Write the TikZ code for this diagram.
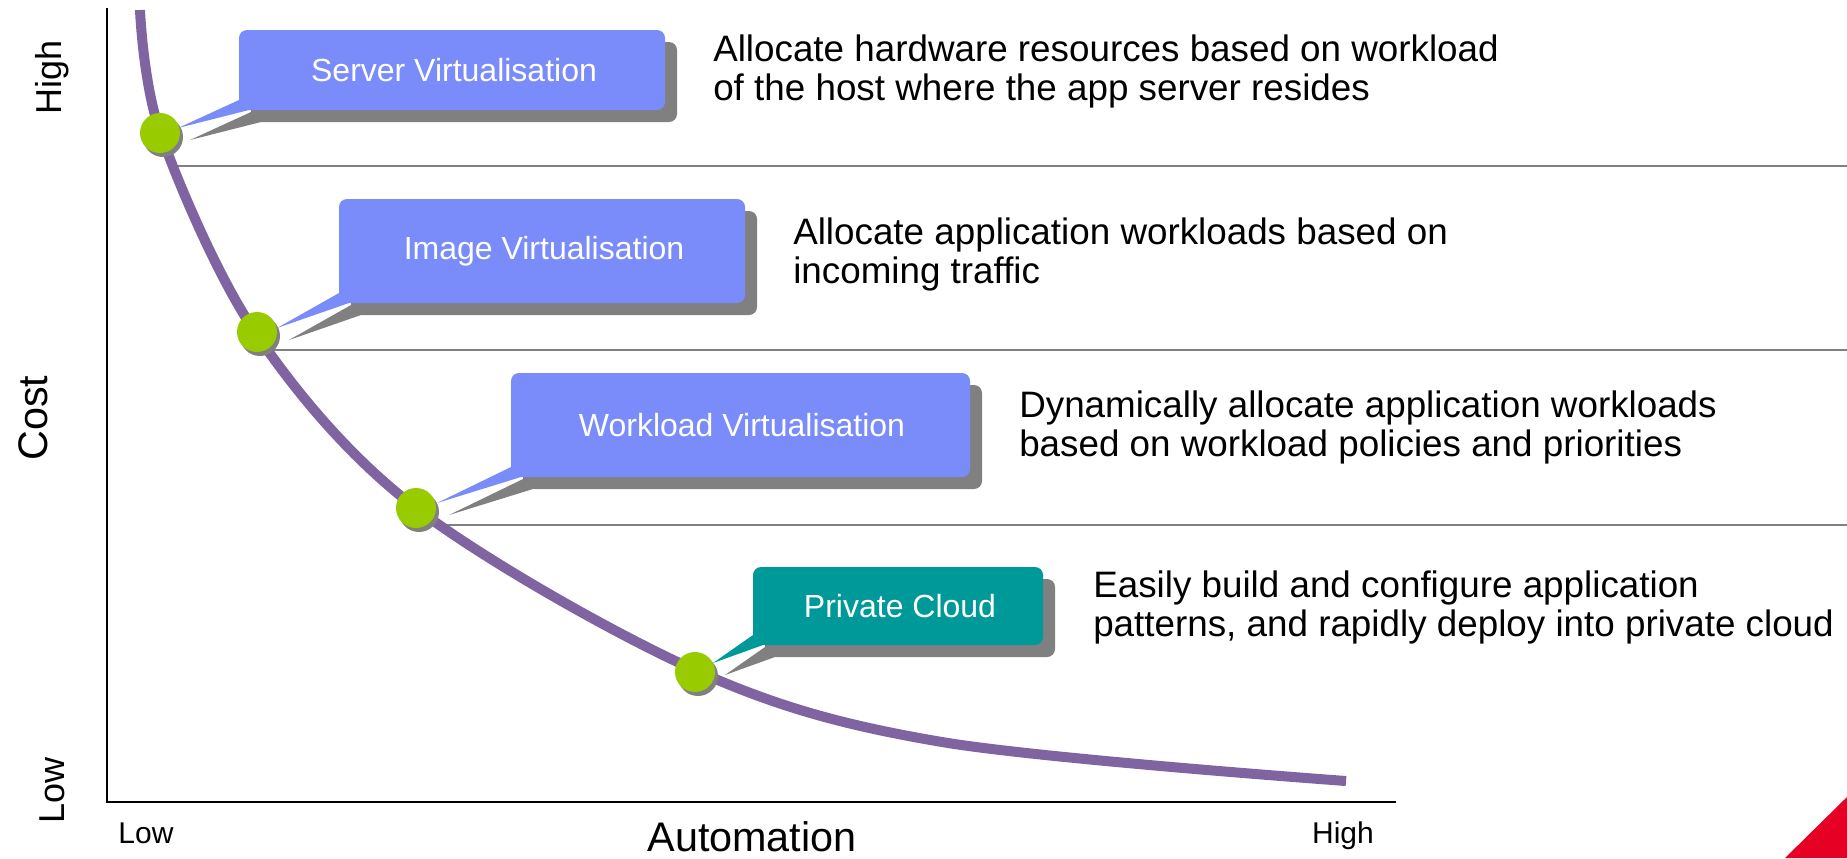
\documentclass[tikz,border=0pt]{standalone}
\usepackage{fontspec}
\setmainfont{Liberation Sans}
\definecolor{boxblue}{RGB}{122,139,250}
\definecolor{boxteal}{RGB}{0,153,153}
\definecolor{dotgreen}{RGB}{153,204,0}
\definecolor{curvepurple}{RGB}{128,100,162}
\definecolor{shgray}{RGB}{128,128,128}
\definecolor{sepgray}{RGB}{128,128,128}
\definecolor{cornerred}{RGB}{230,0,35}
\newcommand{\mycallout}[7]{%
  \fill[shgray,shift={(12,12)}] (#2,#3) -- (#4,#7-10) [rounded corners=6pt] -- (#4,#5) -- (#6,#5) -- (#6,#7) [sharp corners] -- (#4+10,#7) -- cycle;
  \fill[#1] (#2,#3) -- (#4,#7-10) [rounded corners=6pt] -- (#4,#5) -- (#6,#5) -- (#6,#7) [sharp corners] -- (#4+10,#7) -- cycle;
}
\begin{document}
\begin{tikzpicture}[x=0.75pt,y=-0.75pt,
  lbl/.style={text=white,font=\fontsize{24}{28}\selectfont,inner sep=0},
  desc/.style={anchor=base west,font=\fontsize{27.6}{32}\selectfont,inner sep=0},
  axl/.style={font=\fontsize{22.5}{27}\selectfont,inner sep=0},
  axr/.style={font=\fontsize{27}{32}\selectfont,inner sep=0,rotate=90},
  big/.style={font=\fontsize{31}{36}\selectfont,inner sep=0},
  dot/.style={circle,fill=dotgreen,minimum size=30pt,inner sep=0},
  dotsh/.style={circle,fill=shgray,minimum size=30pt,inner sep=0},
  sep/.style={draw=sepgray,line width=2.2pt},
  axisline/.style={draw=black,line width=1.9pt},
  curve/.style={draw=curvepurple,line width=7.5pt}]
\useasboundingbox (0,0) rectangle (1847,858);
% separators
\draw[sep] (168,166) -- (1847,166);
\draw[sep] (273,350) -- (1847,350);
\draw[sep] (433,525) -- (1847,525);
% axes
\draw[axisline] (107,8) -- (107,802) -- (1396,802);
% curve
\draw[curve] plot[smooth,tension=0.55] coordinates {(140,10) (161,135) (257,335) (416,508) (697,671) (942,742) (1346,781)};
% callouts
\mycallout{boxblue}{178}{128}{239}{30}{665}{110}
\mycallout{boxblue}{277}{328}{339}{199}{745}{303}
\mycallout{boxblue}{437}{503}{511}{373}{970}{477}
\mycallout{boxteal}{713}{663}{753}{567}{1043}{645}
\node[lbl] (sv) at (454,70) {Server Virtualisation};
\node[lbl] (iv) at (544,251) {Image Virtualisation};
\node[lbl] (wv) at (742,425) {Workload Virtualisation};
\node[lbl] (pc) at (900,606) {Private Cloud};
% dots
\node[dotsh] (s1) at (163,137) {};
\node[dotsh] (s2) at (260,336) {};
\node[dotsh] (s3) at (419,512) {};
\node[dotsh] (s4) at (698,676) {};
\node[dot] (p1) at (160,133) {};
\node[dot] (p2) at (257,332) {};
\node[dot] (p3) at (416,508) {};
\node[dot] (p4) at (695,672) {};
% descriptions
\node[desc] (d1a) at (713,61) {Allocate hardware resources based on workload};
\node[desc] (d1b) at (713,100) {of the host where the app server resides};
\node[desc] (d2a) at (793,244) {Allocate application workloads based on};
\node[desc] (d2b) at (793,283) {incoming traffic};
\node[desc] (d3a) at (1019,417) {Dynamically allocate application workloads};
\node[desc] (d3b) at (1019,456) {based on workload policies and priorities};
\node[desc] (d4a) at (1093,597) {Easily build and configure application};
\node[desc] (d4b) at (1093,636) {patterns, and rapidly deploy into private cloud};
% axis labels
\node[axr] (yh) at (52,77) {High};
\node[axr] (yl) at (52,790) {Low};
\node[big,rotate=90] (cost) at (33,418) {Cost};
\node[axl,anchor=base] (xl) at (146,843) {Low};
\node[axl,anchor=base] (xh) at (1343,843) {High};
\node[big,anchor=base] (auto) at (752,851) {Automation};
% corner
\fill[cornerred] (1785,858) -- (1847,797) -- (1847,858) -- cycle;
\end{tikzpicture}
\end{document}
